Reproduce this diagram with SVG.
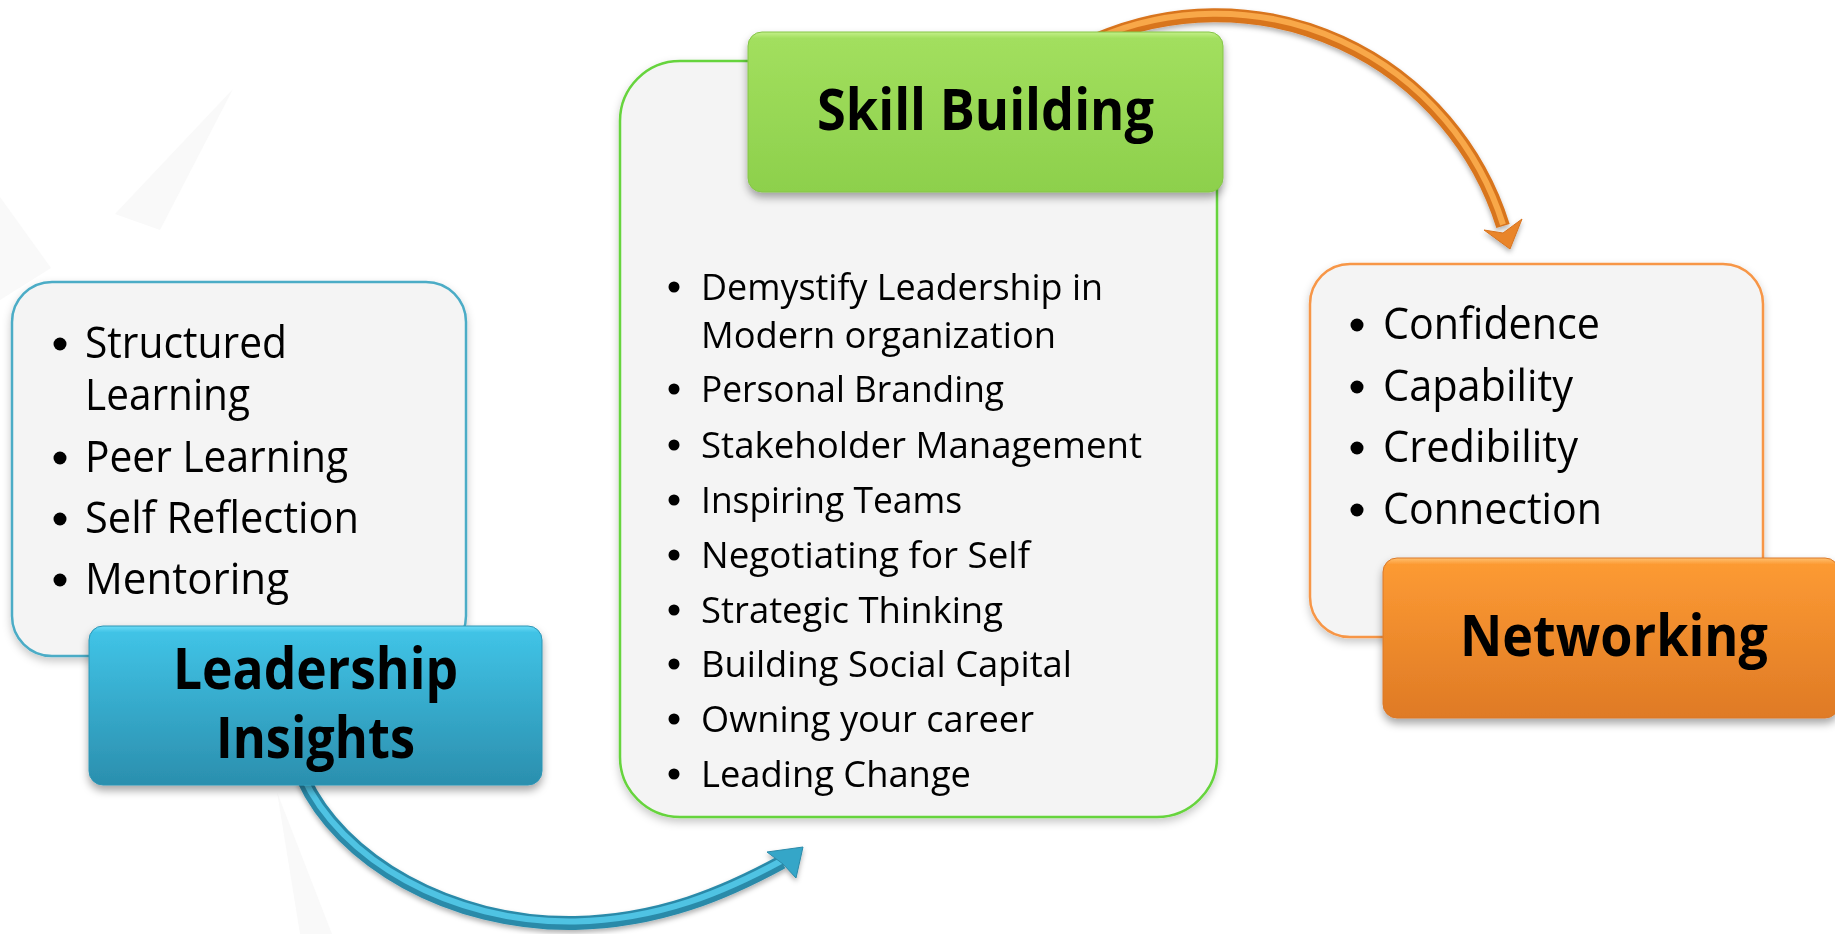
<svg xmlns="http://www.w3.org/2000/svg" width="1835" height="934" viewBox="0 0 1835 934">
  <defs>
    <linearGradient id="gBlue" x1="0" y1="0" x2="0" y2="1">
      <stop offset="0" stop-color="#6fdcf6"/>
      <stop offset="0.04" stop-color="#40c3e6"/>
      <stop offset="1" stop-color="#2b8fae"/>
    </linearGradient>
    <linearGradient id="gGreen" x1="0" y1="0" x2="0" y2="1">
      <stop offset="0" stop-color="#c4f08a"/>
      <stop offset="0.04" stop-color="#a2df5e"/>
      <stop offset="1" stop-color="#8dd04c"/>
    </linearGradient>
    <linearGradient id="gOrange" x1="0" y1="0" x2="0" y2="1">
      <stop offset="0" stop-color="#ffc070"/>
      <stop offset="0.04" stop-color="#fc9a33"/>
      <stop offset="1" stop-color="#df7a25"/>
    </linearGradient>
    <filter id="shadow" x="-10%" y="-10%" width="120%" height="125%">
      <feDropShadow dx="0" dy="5" stdDeviation="4" flood-color="#000" flood-opacity="0.35"/>
    </filter>
    <filter id="shadowSoft" x="-10%" y="-10%" width="120%" height="125%">
      <feDropShadow dx="0" dy="4" stdDeviation="4" flood-color="#000" flood-opacity="0.22"/>
    </filter>
    <filter id="ashadow" x="-10%" y="-10%" width="120%" height="130%">
      <feDropShadow dx="0" dy="3" stdDeviation="2.5" flood-color="#000" flood-opacity="0.3"/>
    </filter>
  </defs>
  <style>
    .list { fill: #f4f4f4; stroke-width: 2.5; }
    .item { font-family: "Open Sans", "Noto Sans", "DejaVu Sans", sans-serif; fill: #000; }
    .big { font-size: 43px; }
    .mid { font-size: 37px; }
    .head { font-family: "Open Sans", "Noto Sans", "DejaVu Sans", sans-serif; font-weight: bold; font-size: 57px; fill: #000; text-anchor: middle; }
    .dot { fill: #000; }
  </style>

  <rect x="0" y="0" width="1835" height="934" fill="#ffffff"/>
  <!-- faint background watermark -->
  <g id="watermark" fill="#f9f9f9">
    <polygon points="233,89 115,214 160,230"/>
    <polygon points="0,197 51,268 0,300"/>
    <polygon points="277,792 332,934 300,934"/>
  </g>

  <!-- connectors -->
  <g id="connectors" filter="url(#ashadow)">
    <g id="arrow-blue">
      <path d="M303,778 C340,860 450,925 575,923 C660,921 725,893 782,862" fill="none" stroke="#2a8aa9" stroke-width="14"/>
      <path d="M303,778 C340,860 450,925 575,923 C660,921 725,893 782,862" fill="none" stroke="#4fc3e3" stroke-width="6" transform="translate(0,-1.5)"/>
      <polygon points="803,847 767,852 783,864 796,878" fill="#36a6c8" stroke="#2a8aa9" stroke-width="1"/>
    </g>
    <g id="arrow-orange">
      <path d="M1096,40 A301,301 0 0 1 1503,226" fill="none" stroke="#d8741f" stroke-width="14"/>
      <path d="M1096,40 A301,301 0 0 1 1503,226" fill="none" stroke="#f8a848" stroke-width="6" transform="translate(0,-1.5)"/>
      <polygon points="1510,249 1484,230 1503,233 1522,219" fill="#e9852c" stroke="#d8741f" stroke-width="1"/>
    </g>
  </g>

  <!-- Leadership Insights node -->
  <g id="node-leadership">
    <rect class="list" x="12" y="282" width="454" height="374" rx="40" stroke="#4bacc6" filter="url(#shadowSoft)"/>
    <circle class="dot" cx="60" cy="344" r="6.5"/>
    <text class="item big" x="85" y="358" textLength="202" lengthAdjust="spacingAndGlyphs">Structured</text>
    <text class="item big" x="85" y="410" textLength="165" lengthAdjust="spacingAndGlyphs">Learning</text>
    <circle class="dot" cx="60" cy="458" r="6.5"/>
    <text class="item big" x="85" y="472" textLength="263" lengthAdjust="spacingAndGlyphs">Peer Learning</text>
    <circle class="dot" cx="60" cy="519" r="6.5"/>
    <text class="item big" x="85" y="533" textLength="274" lengthAdjust="spacingAndGlyphs">Self Reflection</text>
    <circle class="dot" cx="60" cy="580" r="6.5"/>
    <text class="item big" x="85" y="594" textLength="204" lengthAdjust="spacingAndGlyphs">Mentoring</text>
    <rect x="89" y="626" width="453" height="159" rx="14" fill="url(#gBlue)" stroke="#2d94b4" stroke-width="1" filter="url(#shadow)"/>
    <text class="head" x="315.5" y="689" textLength="285" lengthAdjust="spacingAndGlyphs">Leadership</text>
    <text class="head" x="315.5" y="758" textLength="199" lengthAdjust="spacingAndGlyphs">Insights</text>
  </g>

  <!-- Skill Building node -->
  <g id="node-skill">
    <rect class="list" x="620" y="61" width="597" height="756" rx="60" stroke="#66d43c" filter="url(#shadowSoft)"/>
    <circle class="dot" cx="674" cy="287" r="5.5"/>
    <text class="item mid" x="701" y="300" textLength="402" lengthAdjust="spacingAndGlyphs">Demystify Leadership in</text>
    <text class="item mid" x="701" y="348" textLength="355" lengthAdjust="spacingAndGlyphs">Modern organization</text>
    <circle class="dot" cx="674" cy="389" r="5.5"/>
    <text class="item mid" x="701" y="402" textLength="303" lengthAdjust="spacingAndGlyphs">Personal Branding</text>
    <circle class="dot" cx="674" cy="445" r="5.5"/>
    <text class="item mid" x="701" y="458" textLength="441" lengthAdjust="spacingAndGlyphs">Stakeholder Management</text>
    <circle class="dot" cx="674" cy="500" r="5.5"/>
    <text class="item mid" x="701" y="513" textLength="261" lengthAdjust="spacingAndGlyphs">Inspiring Teams</text>
    <circle class="dot" cx="674" cy="555" r="5.5"/>
    <text class="item mid" x="701" y="568" textLength="329" lengthAdjust="spacingAndGlyphs">Negotiating for Self</text>
    <circle class="dot" cx="674" cy="610" r="5.5"/>
    <text class="item mid" x="701" y="623" textLength="302" lengthAdjust="spacingAndGlyphs">Strategic Thinking</text>
    <circle class="dot" cx="674" cy="664" r="5.5"/>
    <text class="item mid" x="701" y="677" textLength="371" lengthAdjust="spacingAndGlyphs">Building Social Capital</text>
    <circle class="dot" cx="674" cy="719" r="5.5"/>
    <text class="item mid" x="701" y="732" textLength="333" lengthAdjust="spacingAndGlyphs">Owning your career</text>
    <circle class="dot" cx="674" cy="774" r="5.5"/>
    <text class="item mid" x="701" y="787" textLength="270" lengthAdjust="spacingAndGlyphs">Leading Change</text>
    <rect x="748" y="32" width="475" height="160" rx="14" fill="url(#gGreen)" stroke="#84c447" stroke-width="1" filter="url(#shadow)"/>
    <text class="head" x="985.5" y="130" textLength="337" lengthAdjust="spacingAndGlyphs">Skill Building</text>
  </g>

  <!-- Networking node -->
  <g id="node-networking">
    <rect class="list" x="1310" y="264" width="453" height="373" rx="40" stroke="#f79646" filter="url(#shadowSoft)"/>
    <circle class="dot" cx="1357" cy="325" r="6.5"/>
    <text class="item big" x="1383" y="339" textLength="217" lengthAdjust="spacingAndGlyphs">Confidence</text>
    <circle class="dot" cx="1357" cy="387" r="6.5"/>
    <text class="item big" x="1383" y="401" textLength="190" lengthAdjust="spacingAndGlyphs">Capability</text>
    <circle class="dot" cx="1357" cy="448" r="6.5"/>
    <text class="item big" x="1383" y="462" textLength="195" lengthAdjust="spacingAndGlyphs">Credibility</text>
    <circle class="dot" cx="1357" cy="510" r="6.5"/>
    <text class="item big" x="1383" y="524" textLength="219" lengthAdjust="spacingAndGlyphs">Connection</text>
    <rect x="1383" y="558" width="456" height="160" rx="14" fill="url(#gOrange)" stroke="#d9782a" stroke-width="1" filter="url(#shadow)"/>
    <text class="head" x="1614" y="656" textLength="308" lengthAdjust="spacingAndGlyphs">Networking</text>
  </g>
</svg>
